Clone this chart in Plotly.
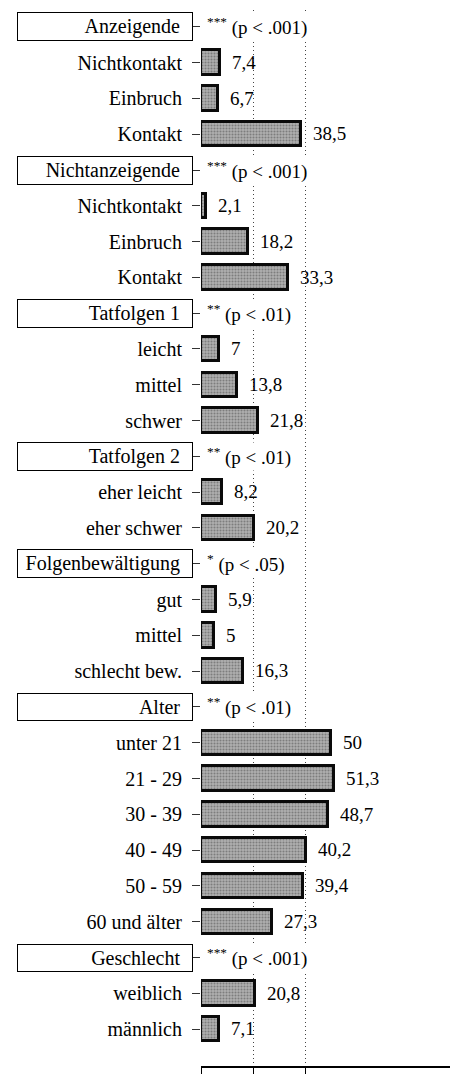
import plotly.graph_objects as go

# page body adds 8px margin, so the figure is a bit smaller than the window
WIDTH = 450
HEIGHT = 1075
FONT = 'Liberation Serif'

# groups: header label, significance text, item labels, item values
groups = ['Anzeigende', 'Nichtanzeigende', 'Tatfolgen 1', 'Tatfolgen 2',
          'Folgenbewältigung', 'Alter', 'Geschlecht']
signif = ['***', '***', '**', '**', '*', '**', '***']
p_text = ['(p < .001)', '(p < .001)', '(p < .01)', '(p < .01)',
          '(p < .05)', '(p < .01)', '(p < .001)']
items = [
    ['Nichtkontakt', 'Einbruch', 'Kontakt'],
    ['Nichtkontakt', 'Einbruch', 'Kontakt'],
    ['leicht', 'mittel', 'schwer'],
    ['eher leicht', 'eher schwer'],
    ['gut', 'mittel', 'schlecht bew.'],
    ['unter 21', '21 - 29', '30 - 39', '40 - 49', '50 - 59', '60 und älter'],
    ['weiblich', 'männlich'],
]
values = [
    [7.4, 6.7, 38.5],
    [2.1, 18.2, 33.3],
    [7, 13.8, 21.8],
    [8.2, 20.2],
    [5.9, 5, 16.3],
    [50, 51.3, 48.7, 40.2, 39.4, 27.3],
    [20.8, 7.1],
]


def fmt(v):
    # german decimal comma, no trailing ,0
    return ('%g' % v).replace('.', ',')


# build row positions: header row followed by its items
bar_y, bar_x, bar_txt = [], [], []
tick_pos, tick_txt = [], []
header_rows = []
row = 0
for g, labels, vals in zip(groups, items, values):
    header_rows.append(row)
    tick_pos.append(row)
    tick_txt.append('')
    row += 1
    for lab, v in zip(labels, vals):
        bar_y.append(row)
        bar_x.append(v)
        bar_txt.append('  ' + fmt(v))
        tick_pos.append(row)
        tick_txt.append(lab)
        row += 1
n_rows = row

fig = go.Figure()
fig.add_trace(go.Bar(
    x=bar_x, y=bar_y, orientation='h', width=0.68,
    text=bar_txt, textposition='outside', cliponaxis=False,
    textfont=dict(family=FONT, size=19, color='black'),
    marker=dict(color='#a0a0a0',
                line=dict(color='#0a0a0a', width=3),
                pattern=dict(shape='.', fgcolor='#4a4a4a', bgcolor='#b0b0b0',
                             size=3, solidity=0.4)),
    showlegend=False,
))

# group headers in boxes + significance notes
for r, g, s, p in zip(header_rows, groups, signif, p_text):
    fig.add_annotation(
        x=0, y=r, xref='paper', yref='y', xanchor='right', yanchor='middle',
        xshift=-8, text=g + '&nbsp;&nbsp;', align='right', width=170,
        showarrow=False, bordercolor='black', borderwidth=1, borderpad=2,
        bgcolor='white', font=dict(family=FONT, size=20, color='black'))
    fig.add_annotation(
        x=0, y=r, xref='x', yref='y', xanchor='left', yanchor='middle',
        xshift=4, text='<sup>' + s + '</sup> ' + p, showarrow=False,
        bgcolor='white', font=dict(family=FONT, size=19, color='black'))

fig.update_layout(
    width=WIDTH, height=HEIGHT,
    margin=dict(l=193, r=0, t=2, b=17),
    plot_bgcolor='white', paper_bgcolor='white',
    font=dict(family=FONT, size=20, color='black'),
    bargap=0,
)
fig.update_xaxes(
    range=[0, 98.8], tickvals=[0, 20, 40], showticklabels=False,
    ticks='outside', ticklen=6, tickcolor='black',
    showgrid=True, gridcolor='#444444', griddash='1px,3px', gridwidth=1.2,
    showline=True, linecolor='black', linewidth=1.5, zeroline=False,
)
fig.update_yaxes(
    range=[n_rows - 1 + 1.03, -0.47], tickvals=tick_pos, ticktext=tick_txt,
    ticks='outside', ticklen=8, tickcolor='#333333', ticklabelstandoff=6,
    showgrid=False, zeroline=False, showline=False,
    tickfont=dict(family=FONT, size=20, color='black'),
)

fig.write_html('out.html')
